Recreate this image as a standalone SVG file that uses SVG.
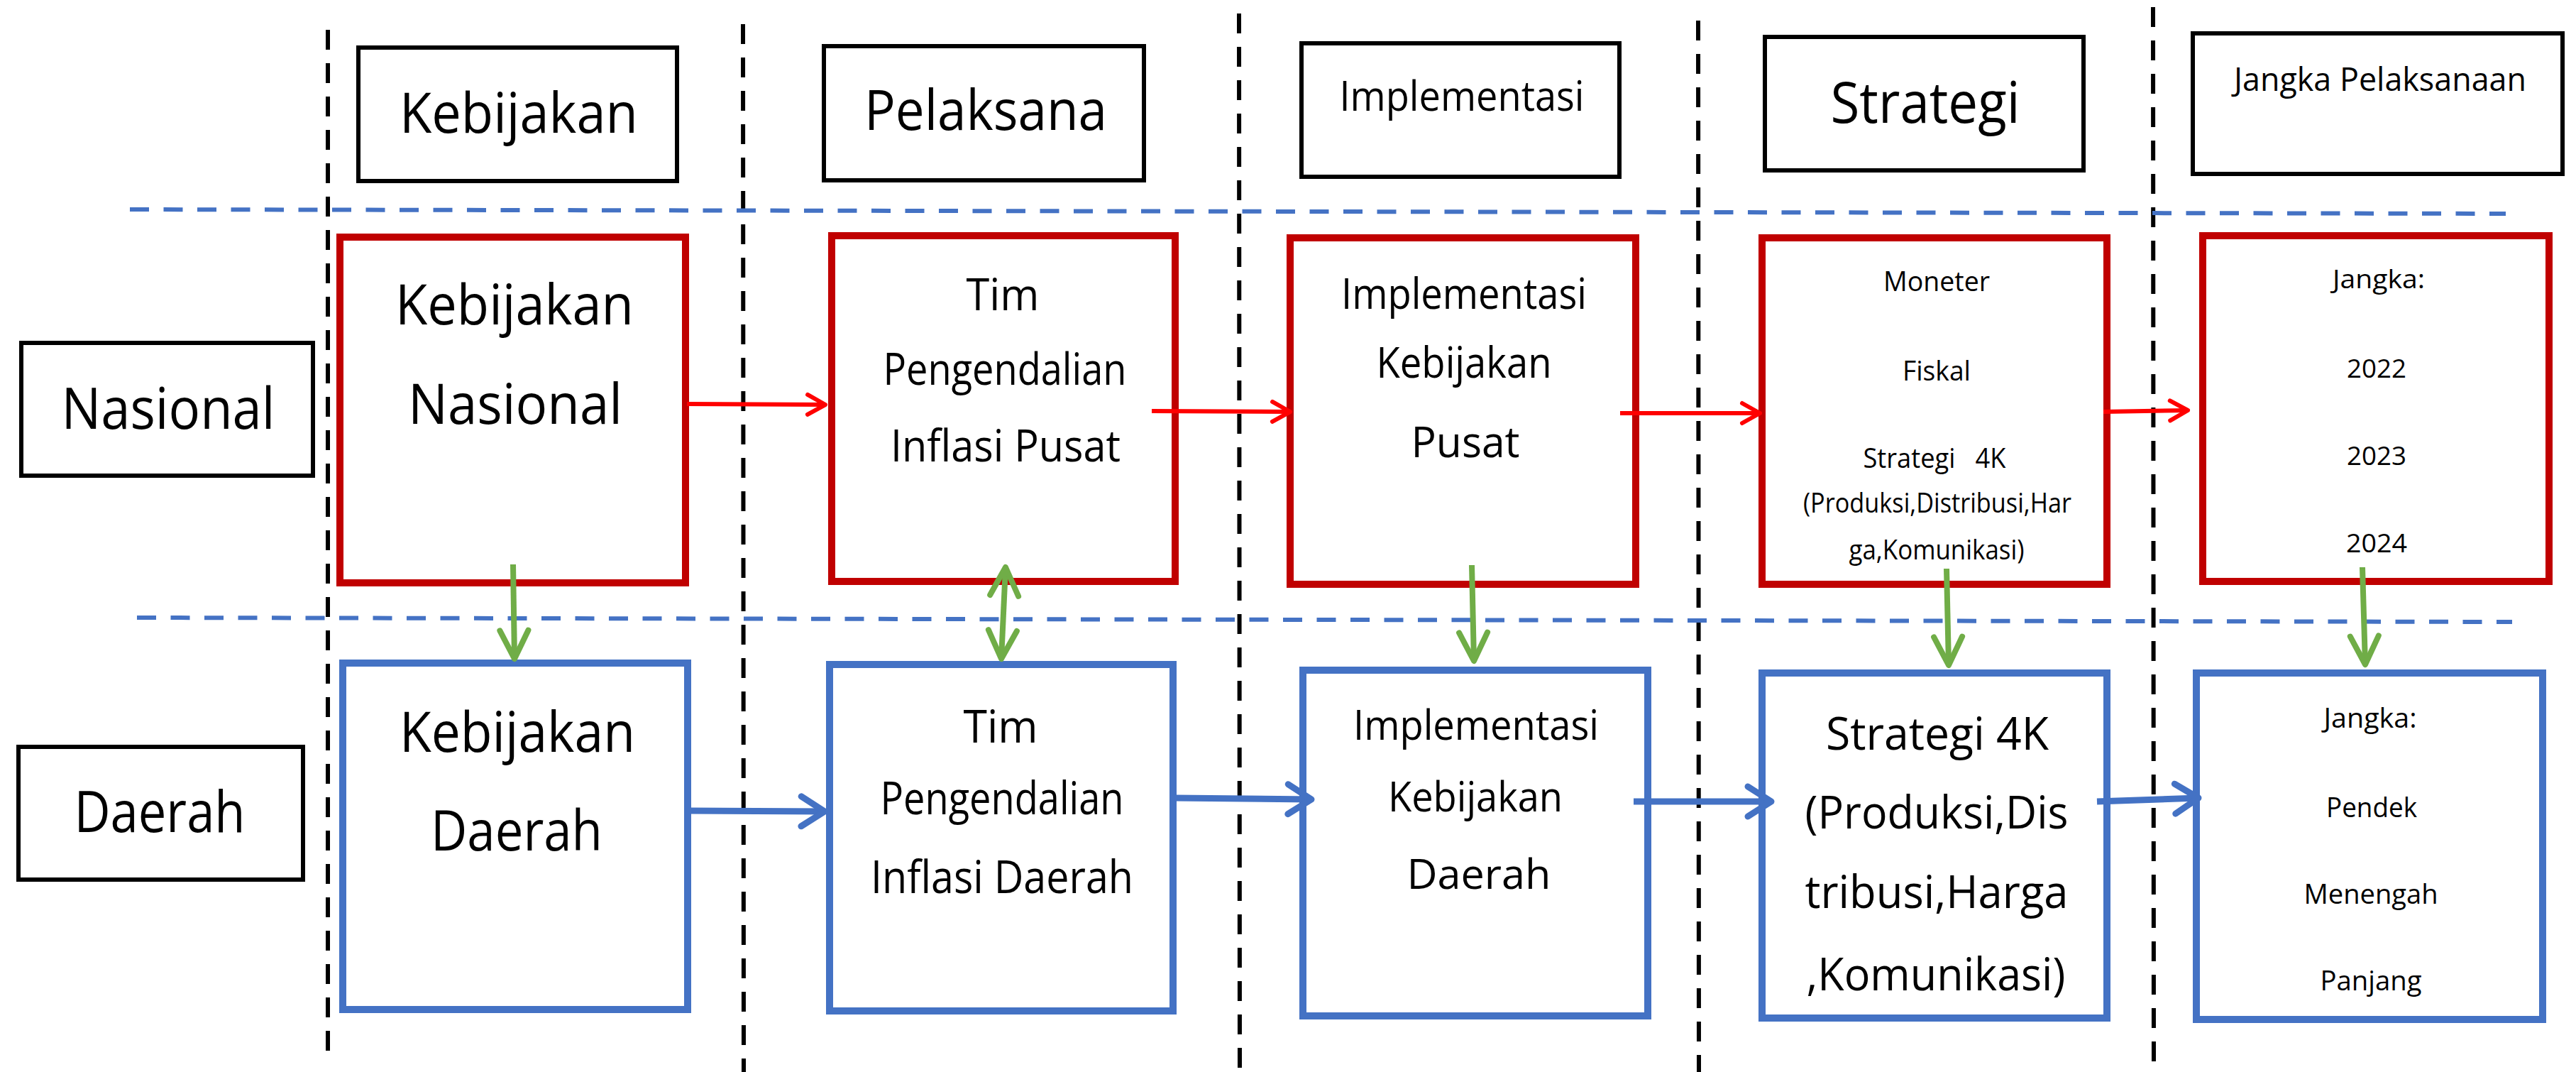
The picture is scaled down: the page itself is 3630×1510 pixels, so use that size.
<svg xmlns="http://www.w3.org/2000/svg" width="3630" height="1510" viewBox="0 0 3630 1510">
<style>
text{font-family:"Open Sans","Noto Sans","Liberation Sans",sans-serif;fill:#000;text-anchor:middle}
.hb{fill:#fff;stroke:#000;stroke-width:6}
.rb{fill:#fff;stroke:#C00000;stroke-width:10}
.bb{fill:#fff;stroke:#4472C4;stroke-width:10}
.vg{stroke:#000;stroke-width:6;stroke-dasharray:28 19;fill:none}
.hg{stroke:#4472C4;stroke-width:6;stroke-dasharray:27 20.5;fill:none}
.ra{stroke:#FF0000;stroke-width:6;fill:none;marker-end:url(#mr)}
.ba{stroke:#4472C4;stroke-width:9;fill:none;marker-end:url(#mb)}
.ga{stroke:#70AD47;stroke-width:8;fill:none;marker-end:url(#mg)}
</style>
<defs>
<marker id="mr" markerUnits="userSpaceOnUse" markerWidth="50" markerHeight="50" viewBox="-40 -25 50 50" refX="0" refY="0" orient="auto" overflow="visible"><path d="M-25,-14 L0,0 L-25,14" fill="none" stroke="#FF0000" stroke-width="6" stroke-linecap="round" stroke-linejoin="round"/></marker>
<marker id="mb" markerUnits="userSpaceOnUse" markerWidth="60" markerHeight="60" viewBox="-50 -30 60 60" refX="0" refY="0" orient="auto" overflow="visible"><path d="M-33,-21 L0,0 L-33,21" fill="none" stroke="#4472C4" stroke-width="9" stroke-linecap="round" stroke-linejoin="round"/></marker>
<marker id="mg" markerUnits="userSpaceOnUse" markerWidth="60" markerHeight="60" viewBox="-50 -30 60 60" refX="0" refY="0" orient="auto-start-reverse" overflow="visible"><path d="M-40,-20 L0,0 L-40,20" fill="none" stroke="#70AD47" stroke-width="8" stroke-linecap="round" stroke-linejoin="round"/></marker>
</defs>
<rect width="3630" height="1510" fill="#fff"/>
<g id="guides">
<line class="vg" x1="462" y1="42" x2="462" y2="1493"/>
<line class="vg" x1="1047" y1="34" x2="1048" y2="1510"/>
<line class="vg" x1="1746" y1="19" x2="1747" y2="1510"/>
<line class="vg" x1="2393" y1="29" x2="2394" y2="1510"/>
<line class="vg" x1="3034" y1="10" x2="3035" y2="1507"/>
<line class="hg" x1="183" y1="295" x2="3531" y2="301"/>
<line class="hg" x1="193" y1="870" x2="3540" y2="876"/>
</g>
<g id="h-kebijakan"><rect class="hb" x="505" y="67" width="449" height="188"/><text x="731" y="187" font-size="79" textLength="336" lengthAdjust="spacingAndGlyphs">Kebijakan</text></g>
<g id="h-pelaksana"><rect class="hb" x="1161" y="65" width="451" height="189"/><text x="1389" y="183" font-size="78" textLength="342" lengthAdjust="spacingAndGlyphs">Pelaksana</text></g>
<g id="h-implementasi"><rect class="hb" x="1834" y="61" width="448" height="188"/><text x="2060" y="156" font-size="58" textLength="345" lengthAdjust="spacingAndGlyphs">Implementasi</text></g>
<g id="h-strategi"><rect class="hb" x="2487" y="52" width="449" height="188"/><text x="2713" y="173" font-size="80" textLength="267" lengthAdjust="spacingAndGlyphs">Strategi</text></g>
<g id="h-jangka"><rect class="hb" x="3090" y="47" width="521" height="198"/><text x="3354" y="128" font-size="46" textLength="412" lengthAdjust="spacingAndGlyphs">Jangka Pelaksanaan</text></g>
<g id="l-nasional"><rect class="hb" x="30" y="483" width="411" height="187"/><text x="237" y="604" font-size="80" textLength="301" lengthAdjust="spacingAndGlyphs">Nasional</text></g>
<g id="l-daerah"><rect class="hb" x="26" y="1052" width="401" height="187"/><text x="225" y="1172" font-size="80" textLength="241" lengthAdjust="spacingAndGlyphs">Daerah</text></g>
<g id="n-kebijakan-nasional"><rect class="rb" x="479" y="334" width="487" height="487"/>
<text x="725" y="457" font-size="78" textLength="336" lengthAdjust="spacingAndGlyphs">Kebijakan</text>
<text x="726" y="597" font-size="78" textLength="302" lengthAdjust="spacingAndGlyphs">Nasional</text></g>
<g id="n-tim-pusat"><rect class="rb" x="1172" y="332" width="484" height="487"/>
<text x="1413" y="437" font-size="63" textLength="103" lengthAdjust="spacingAndGlyphs">Tim</text>
<text x="1416" y="542" font-size="63" textLength="343" lengthAdjust="spacingAndGlyphs">Pengendalian</text>
<text x="1417" y="650" font-size="63" textLength="324" lengthAdjust="spacingAndGlyphs">Inflasi Pusat</text></g>
<g id="n-impl-pusat"><rect class="rb" x="1818" y="335" width="487" height="488"/>
<text x="2063" y="435" font-size="60" textLength="346" lengthAdjust="spacingAndGlyphs">Implementasi</text>
<text x="2063" y="532" font-size="60" textLength="247" lengthAdjust="spacingAndGlyphs">Kebijakan</text>
<text x="2065" y="644" font-size="60" textLength="153" lengthAdjust="spacingAndGlyphs">Pusat</text></g>
<g id="n-strategi-nasional"><rect class="rb" x="2483" y="335" width="486" height="488"/>
<text x="2729" y="410" font-size="38" textLength="150" lengthAdjust="spacingAndGlyphs">Moneter</text>
<text x="2729" y="536" font-size="38" textLength="96" lengthAdjust="spacingAndGlyphs">Fiskal</text>
<text x="2726" y="659" font-size="38" textLength="201" lengthAdjust="spacingAndGlyphs" xml:space="preserve">Strategi   4K</text>
<text x="2730" y="722" font-size="38" textLength="378" lengthAdjust="spacingAndGlyphs">(Produksi,Distribusi,Har</text>
<text x="2729" y="788" font-size="38" textLength="247" lengthAdjust="spacingAndGlyphs">ga,Komunikasi)</text></g>
<g id="n-jangka-nasional"><rect class="rb" x="3104" y="332" width="488" height="487"/>
<text x="3352" y="406" font-size="37" textLength="130" lengthAdjust="spacingAndGlyphs">Jangka:</text>
<text x="3349" y="532" font-size="37" textLength="84" lengthAdjust="spacingAndGlyphs">2022</text>
<text x="3349" y="655" font-size="37" textLength="84" lengthAdjust="spacingAndGlyphs">2023</text>
<text x="3349" y="778" font-size="37" textLength="86" lengthAdjust="spacingAndGlyphs">2024</text></g>
<g id="n-kebijakan-daerah"><rect class="bb" x="483" y="934" width="486" height="488"/>
<text x="729" y="1059" font-size="78" textLength="332" lengthAdjust="spacingAndGlyphs">Kebijakan</text>
<text x="728" y="1198" font-size="78" textLength="242" lengthAdjust="spacingAndGlyphs">Daerah</text></g>
<g id="n-tim-daerah"><rect class="bb" x="1169" y="936" width="484" height="488"/>
<text x="1410" y="1046" font-size="64" textLength="105" lengthAdjust="spacingAndGlyphs">Tim</text>
<text x="1412" y="1147" font-size="64" textLength="343" lengthAdjust="spacingAndGlyphs">Pengendalian</text>
<text x="1412" y="1258" font-size="64" textLength="370" lengthAdjust="spacingAndGlyphs">Inflasi Daerah</text></g>
<g id="n-impl-daerah"><rect class="bb" x="1836" y="944" width="486" height="487"/>
<text x="2080" y="1042" font-size="58" textLength="346" lengthAdjust="spacingAndGlyphs">Implementasi</text>
<text x="2079" y="1143" font-size="58" textLength="246" lengthAdjust="spacingAndGlyphs">Kebijakan</text>
<text x="2084" y="1252" font-size="58" textLength="203" lengthAdjust="spacingAndGlyphs">Daerah</text></g>
<g id="n-strategi-daerah"><rect class="bb" x="2483" y="948" width="486" height="486"/>
<text x="2730" y="1056" font-size="64" textLength="314" lengthAdjust="spacingAndGlyphs">Strategi 4K</text>
<text x="2729" y="1167" font-size="64" textLength="371" lengthAdjust="spacingAndGlyphs">(Produksi,Dis</text>
<text x="2729" y="1279" font-size="64" textLength="371" lengthAdjust="spacingAndGlyphs">tribusi,Harga</text>
<text x="2728" y="1395" font-size="64" textLength="365" lengthAdjust="spacingAndGlyphs">,Komunikasi)</text></g>
<g id="n-jangka-daerah"><rect class="bb" x="3095" y="948" width="488" height="488"/>
<text x="3340" y="1025" font-size="38" textLength="131" lengthAdjust="spacingAndGlyphs">Jangka:</text>
<text x="3342" y="1151" font-size="38" textLength="128" lengthAdjust="spacingAndGlyphs">Pendek</text>
<text x="3341" y="1273" font-size="38" textLength="189" lengthAdjust="spacingAndGlyphs">Menengah</text>
<text x="3341" y="1395" font-size="38" textLength="143" lengthAdjust="spacingAndGlyphs">Panjang</text></g>
<g id="connectors">
<line class="ra" x1="968" y1="569" x2="1163" y2="570"/>
<line class="ra" x1="1623" y1="579" x2="1818" y2="580"/>
<line class="ra" x1="2283" y1="582" x2="2480" y2="582"/>
<line class="ra" x1="2964" y1="580" x2="3083" y2="578"/>
<line class="ba" x1="972" y1="1142" x2="1162" y2="1143"/>
<line class="ba" x1="1656" y1="1124" x2="1848" y2="1126"/>
<line class="ba" x1="2302" y1="1129" x2="2496" y2="1129"/>
<line class="ba" x1="2955" y1="1129" x2="3098" y2="1124"/>
<line class="ga" x1="723" y1="795" x2="725" y2="928"/>
<line class="ga" x1="1417" y1="799" x2="1411" y2="928" marker-start="url(#mg)"/>
<line class="ga" x1="2074" y1="796" x2="2077" y2="931"/>
<line class="ga" x1="2743" y1="801" x2="2746" y2="937"/>
<line class="ga" x1="3329" y1="799" x2="3333" y2="936"/>
</g>
</svg>
